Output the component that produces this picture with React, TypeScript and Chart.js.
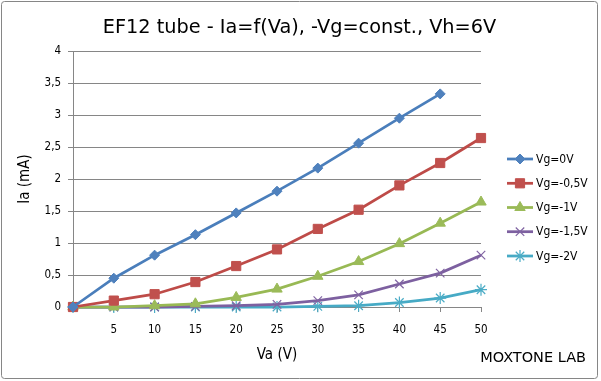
import React, { useEffect, useRef } from 'react';
import { Chart, registerables } from 'chart.js';

Chart.register(...registerables);

const voltages = [0, 5, 10, 15, 20, 25, 30, 35, 40, 45, 50];
const vg0 = [0, 0.45, 0.81, 1.13, 1.47, 1.81, 2.17, 2.56, 2.95, 3.33, null];
const vg05 = [0, 0.1, 0.2, 0.39, 0.64, 0.9, 1.22, 1.52, 1.9, 2.25, 2.64];
const vg1 = [0, 0, 0.02, 0.05, 0.15, 0.28, 0.48, 0.71, 0.99, 1.31, 1.64];
const vg15 = [0, 0, 0, 0.01, 0.02, 0.04, 0.1, 0.19, 0.36, 0.53, 0.81];
const vg2 = [0, 0, 0, 0, 0, 0, 0.01, 0.02, 0.07, 0.14, 0.27];
const seriesLabels = ['Vg=0V', 'Vg=-0,5V', 'Vg=-1V', 'Vg=-1,5V', 'Vg=-2V'];
const chartTitle = 'EF12 tube - Ia=f(Va), -Vg=const., Vh=6V';
const xTitle = 'Va (V)';
const yTitle = 'Ia (mA)';
const credit = 'MOXTONE LAB';

const FONT = '"DejaVu Sans Condensed", "DejaVu Sans", sans-serif';
const FONT_WIDE = '"DejaVu Sans", sans-serif';

const styles = [
  { line: '#4A7EBB', fill: '#4F81BD', point: 'rectRot', r: 5 },
  { line: '#BE4B48', fill: '#C0504D', point: 'rect', r: 6.5 },
  { line: '#98B954', fill: '#9BBB59', point: 'triangle', r: 6 },
  { line: '#7D60A0', fill: '#8064A2', point: 'crossRot', r: 6 },
  { line: '#46AAC5', fill: '#4BACC6', point: 'star', r: 6 },
];

const seriesValues = [vg0, vg05, vg1, vg15, vg2];
const legendRows = [159, 183.3, 207.5, 231.7, 256];

function drawPointShape(ctx: CanvasRenderingContext2D, style: string, radius: number, x: number, y: number) {
  const Q = Math.PI / 4;
  ctx.beginPath();
  if (style === 'rectRot') {
    ctx.moveTo(x - radius, y);
    ctx.lineTo(x, y - radius);
    ctx.lineTo(x + radius, y);
    ctx.lineTo(x, y + radius);
    ctx.closePath();
    ctx.fill();
    ctx.stroke();
  } else if (style === 'rect') {
    const s = Math.SQRT1_2 * radius;
    ctx.rect(x - s, y - s, 2 * s, 2 * s);
    ctx.fill();
    ctx.stroke();
  } else if (style === 'triangle') {
    ctx.moveTo(x, y - radius);
    ctx.lineTo(x + Math.cos(Math.PI / 6) * radius, y + radius / 2);
    ctx.lineTo(x - Math.cos(Math.PI / 6) * radius, y + radius / 2);
    ctx.closePath();
    ctx.fill();
    ctx.stroke();
  } else if (style === 'crossRot') {
    const d = Math.cos(Q) * radius;
    ctx.moveTo(x - d, y - d);
    ctx.lineTo(x + d, y + d);
    ctx.moveTo(x + d, y - d);
    ctx.lineTo(x - d, y + d);
    ctx.stroke();
  } else if (style === 'star') {
    const d = Math.cos(Q) * radius;
    ctx.moveTo(x - d, y - d);
    ctx.lineTo(x + d, y + d);
    ctx.moveTo(x + d, y - d);
    ctx.lineTo(x - d, y + d);
    ctx.moveTo(x, y - radius);
    ctx.lineTo(x, y + radius);
    ctx.moveTo(x - radius, y);
    ctx.lineTo(x + radius, y);
    ctx.stroke();
  }
}

const decor = {
  id: 'decor',
  beforeDraw(chart: any) {
    const ctx = chart.ctx;
    ctx.save();
    ctx.fillStyle = '#ffffff';
    ctx.fillRect(0, 0, chart.width, chart.height);
    ctx.restore();
  },
  afterDraw(chart: any) {
    const ctx = chart.ctx;
    ctx.save();
    // border
    ctx.strokeStyle = '#868686';
    ctx.lineWidth = 1;
    ctx.beginPath();
    const bx = 1.5, by = 1.5, bw = 596, bh = 377, rr = 3;
    ctx.moveTo(bx + rr, by);
    ctx.lineTo(bx + bw - rr, by);
    ctx.quadraticCurveTo(bx + bw, by, bx + bw, by + rr);
    ctx.lineTo(bx + bw, by + bh - rr);
    ctx.quadraticCurveTo(bx + bw, by + bh, bx + bw - rr, by + bh);
    ctx.lineTo(bx + rr, by + bh);
    ctx.quadraticCurveTo(bx, by + bh, bx, by + bh - rr);
    ctx.lineTo(bx, by + rr);
    ctx.quadraticCurveTo(bx, by, bx + rr, by);
    ctx.stroke();

    ctx.fillStyle = '#000000';
    ctx.textAlign = 'center';
    ctx.textBaseline = 'alphabetic';
    ctx.font = '19.3px ' + FONT_WIDE;
    ctx.fillText(chartTitle, 299.5, 33);

    ctx.textBaseline = 'middle';
    ctx.font = '15px ' + FONT;
    ctx.fillText(xTitle, 277, 355);

    ctx.save();
    ctx.translate(25, 179);
    ctx.rotate(-Math.PI / 2);
    ctx.fillText(yTitle, 0, 0);
    ctx.restore();

    ctx.font = '14.5px ' + FONT_WIDE;
    ctx.textAlign = 'right';
    ctx.textBaseline = 'alphabetic';
    ctx.fillText(credit, 586, 362);

    // legend
    ctx.font = '12px ' + FONT;
    ctx.textAlign = 'left';
    ctx.textBaseline = 'middle';
    styles.forEach((s, i) => {
      const y = legendRows[i];
      ctx.strokeStyle = s.line;
      ctx.lineWidth = 2.75;
      ctx.beginPath();
      ctx.moveTo(507, y);
      ctx.lineTo(533, y);
      ctx.stroke();
      ctx.fillStyle = s.fill;
      ctx.strokeStyle = s.fill;
      ctx.lineWidth = i >= 3 ? 1.2 : 1;
      drawPointShape(ctx, s.point, s.r, 520, y);
      ctx.fillStyle = '#000000';
      ctx.fillText(seriesLabels[i], 536, y + 0.5);
    });
    ctx.restore();
  },
};

export default function App() {
  const ref = useRef<HTMLCanvasElement | null>(null);
  useEffect(() => {
    if (!ref.current) return;
    const datasets = seriesValues.map((vals, i) => ({
      label: seriesLabels[i],
      data: voltages.map((v, j) => ({ x: v, y: vals[j] })).filter((p) => p.y !== null),
      borderColor: styles[i].line,
      backgroundColor: styles[i].fill,
      pointBorderColor: styles[i].fill,
      pointBackgroundColor: styles[i].fill,
      pointStyle: styles[i].point,
      pointRadius: styles[i].r,
      pointBorderWidth: i >= 3 ? 1.2 : 1,
      borderWidth: 2.75,
      tension: 0,
      clip: false as any,
    }));
    const chart = new Chart(ref.current, {
      type: 'line',
      data: { datasets },
      options: {
        responsive: false,
        animation: false,
        layout: { padding: { left: 0, top: 51, right: 120, bottom: 0 } },
        plugins: { legend: { display: false }, title: { display: false }, tooltip: { enabled: false } },
        scales: {
          x: {
            type: 'linear',
            min: 0,
            max: 50,
            ticks: {
              stepSize: 5,
              padding: 11,
              color: '#000',
              font: { family: FONT, size: 11.5 },
              maxRotation: 0,
              callback: (v: any) => (v === 0 ? '' : String(v)),
            },
            grid: { drawOnChartArea: false, drawTicks: true, tickLength: 5, color: '#868686' },
            border: { color: '#868686' },
            afterFit: (s: any) => { s.height = 74; },
          },
          y: {
            min: 0,
            max: 4,
            ticks: {
              stepSize: 0.5,
              padding: 7,
              color: '#000',
              font: { family: FONT, size: 11.5 },
              callback: (v: any) => String(v).replace('.', ','),
            },
            grid: { color: '#868686', tickLength: 5 },
            border: { color: '#868686' },
            afterFit: (s: any) => { s.width = 73; },
          },
        },
      },
      plugins: [decor],
    });
    return () => chart.destroy();
  }, []);
  return (
    <div style={{ position: 'fixed', left: 0, top: 0, width: 601, height: 381 }}>
      <canvas ref={ref} width={601} height={381} style={{ display: 'block' }} />
    </div>
  );
}
